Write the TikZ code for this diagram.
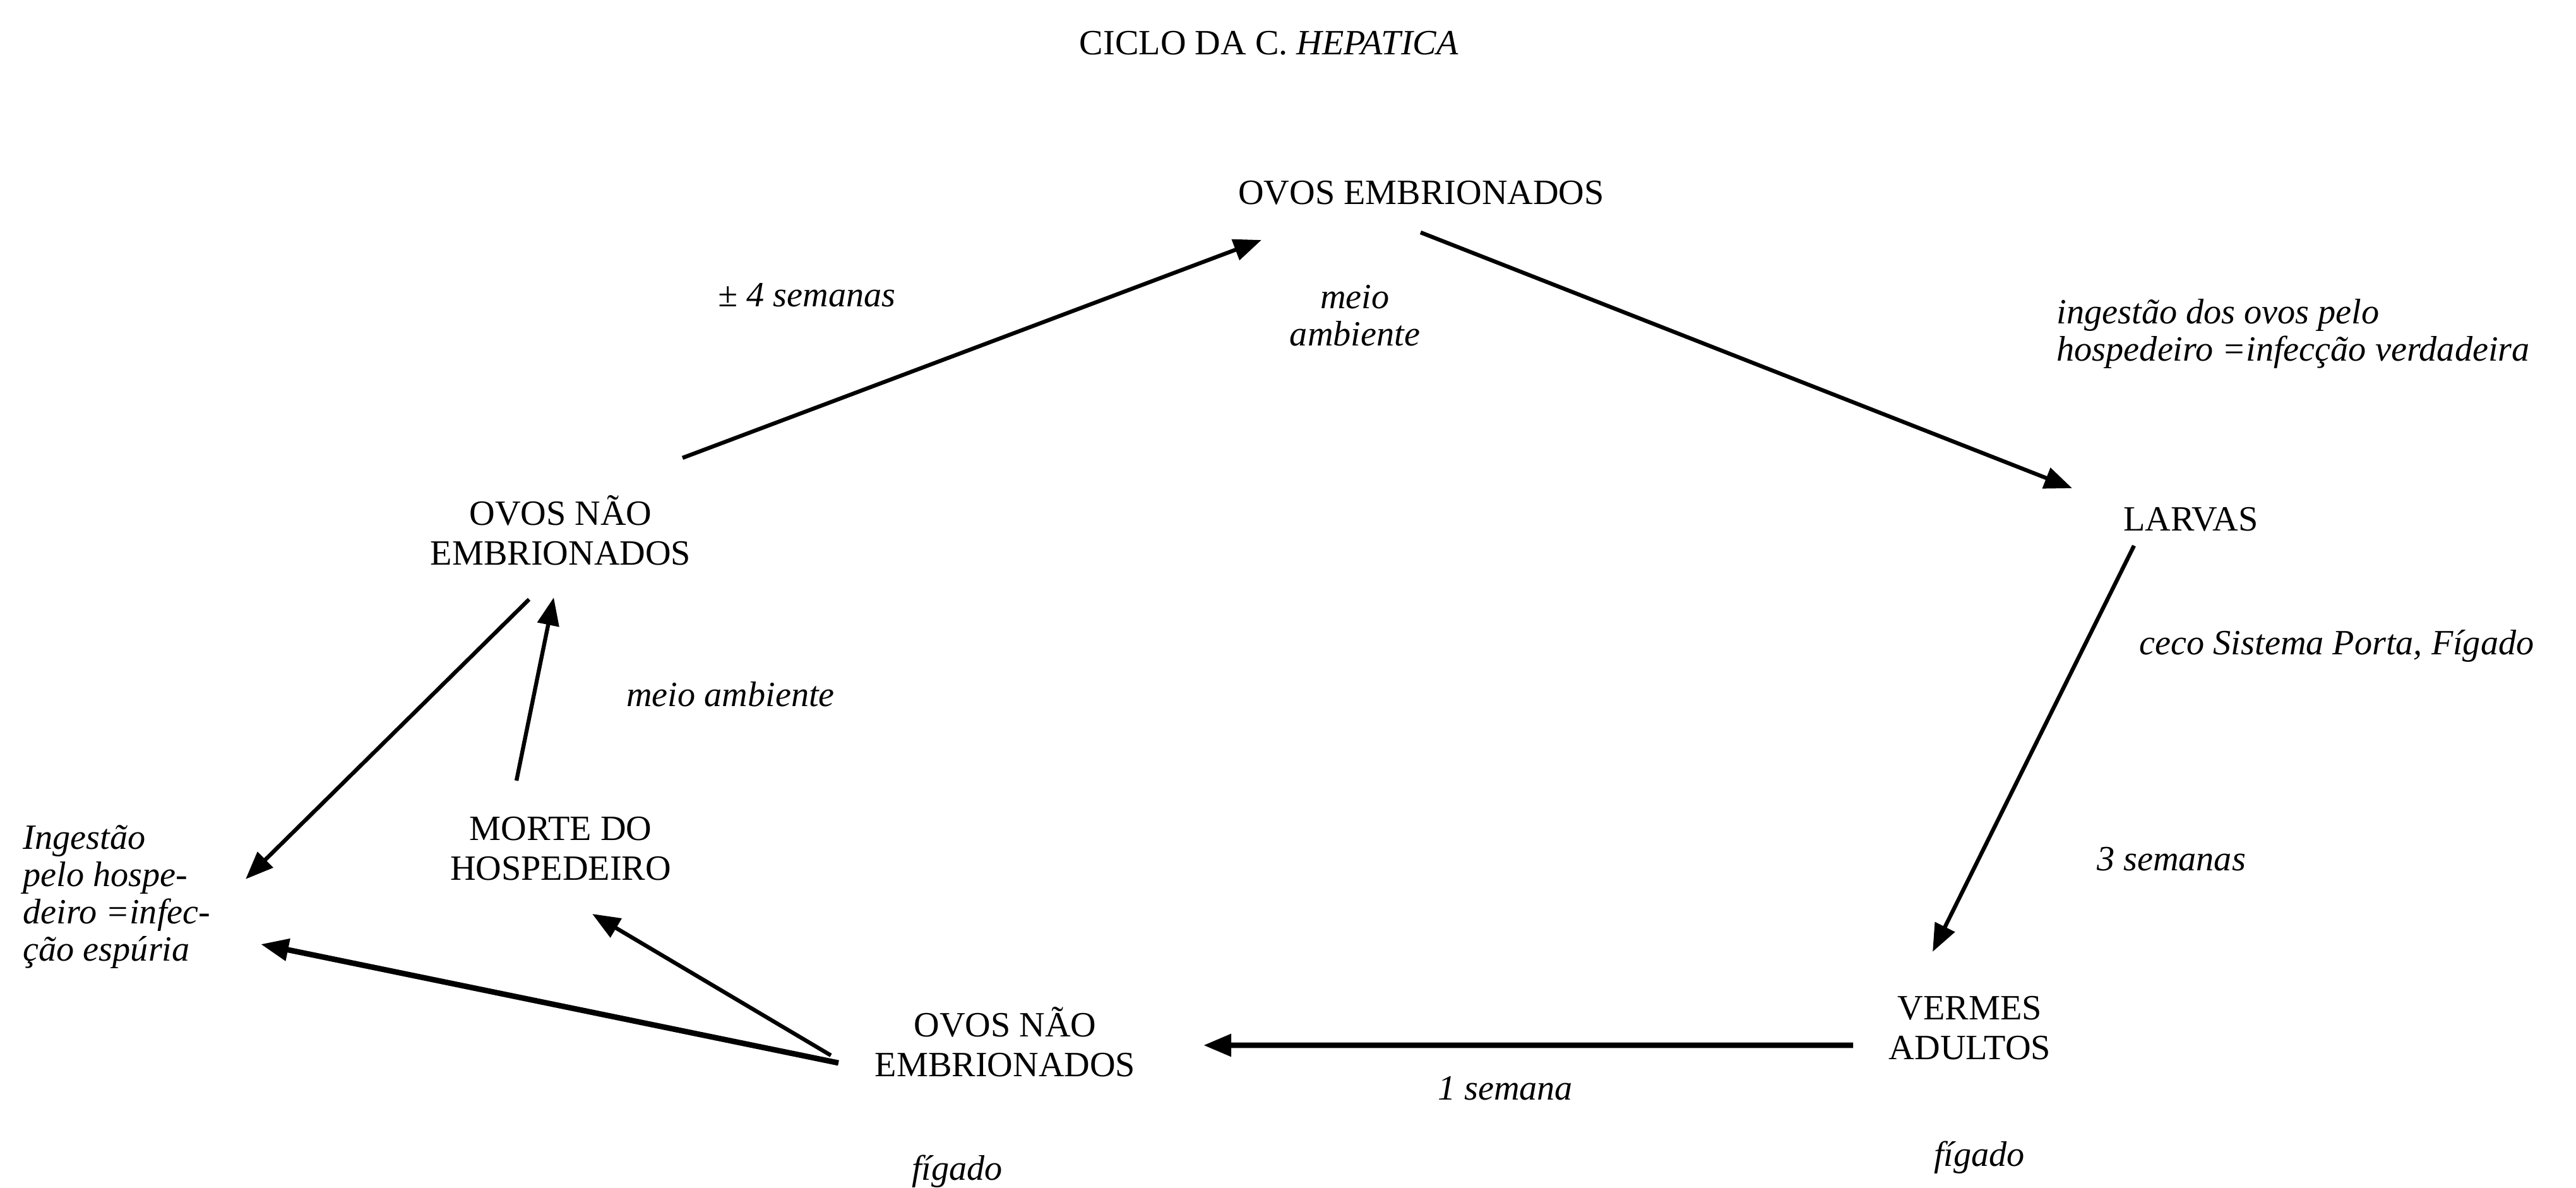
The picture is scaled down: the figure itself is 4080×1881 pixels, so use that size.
\documentclass[tikz,border=0pt]{standalone}
\usepackage{fontspec}
\setmainfont{Liberation Serif}
\usetikzlibrary{positioning,arrows.meta}

\begin{document}
\begin{tikzpicture}[x=0.1mm,y=-0.1mm,on grid,
        stage/.style={align=center,font=\fontsize{16}{18}\selectfont},
        note/.style={align=left,inner sep=0pt,font=\fontsize{16}{16.8}\selectfont\itshape},
        hop/.style={-{Triangle[length=4.4mm,width=3.4mm]},line width=1.8pt},
        heavy/.style={line width=2.5pt}]
    \useasboundingbox (0,0) rectangle (4080,1881);
    \node[stage] (ovosmeio) at (888,840) {OVOS NÃO\\EMBRIONADOS};
    \node[stage, above right=53.5mm and 136.3mm of ovosmeio] (embrionados) {OVOS EMBRIONADOS};
    \node[stage, below=50.4mm of ovosmeio] (morte) {MORTE DO\\HOSPEDEIRO};
    \node[stage, below right=30.6mm and 70.4mm of morte] (ovosfigado) {OVOS NÃO\\EMBRIONADOS};
    \node[stage, below right=51.7mm and 121.9mm of embrionados] (larvas) {LARVAS};
    \node[stage, below left=80.6mm and 35mm of larvas] (vermes) {VERMES\\ADULTOS};
    \node[stage, above left=23.7mm and 24.1mm of embrionados] (titulo) {CICLO DA C. \textit{HEPATICA}};
    \node[note, above right=37.3mm and 39mm of ovosmeio] (quatro) {± 4 semanas};
    \node[note, align=center, below left=19.5mm and 10.5mm of embrionados] (meioa) {meio\\ambiente};
    \node[note, above left=29.4mm and 21.3mm of larvas, anchor=west] (verdadeira) {ingestão dos ovos pelo\\hospedeiro =infecção verdadeira};
    \node[note, below left=20.1mm and 8.2mm of larvas, anchor=west] (ceco) {ceco Sistema Porta, Fígado};
    \node[note, below right=25.9mm and 26.9mm of ovosmeio] (meiob) {meio ambiente};
    \node[note, below left=7.6mm and 85.2mm of morte, anchor=west] (espuria) {Ingestão\\pelo hospe-\\deiro =infec-\\ção espúria};
    \node[note, above right=26.8mm and 31.9mm of vermes] (tres) {3 semanas};
    \node[note, below right=7.3mm and 79.2mm of ovosfigado] (uma) {1 semana};
    \node[note, below left=20.5mm and 7.6mm of ovosfigado] (figadoa) {fígado};
    \node[note, below right=20.5mm and 1.5mm of vermes] (figadob) {fígado};
    \path[hop]
        ([shift={(193,-115)}]ovosmeio.center) edge ([shift={(-253,75)}]embrionados.center)
        ([shift={(-1,63)}]embrionados.center) edge ([shift={(-188,-49)}]larvas.center)
        ([shift={(-90,42)}]larvas.center) edge ([shift={(-59,-121)}]vermes.center)
        ([shift={(-185,27)}]vermes.center) edge[heavy] ([shift={(314,5)}]ovosfigado.center)
        ([shift={(-276,21)}]ovosfigado.center) edge ([shift={(50,103)}]morte.center)
        ([shift={(-264,33)}]ovosfigado.center) edge[heavy] ([shift={(377,75)}]espuria.west)
        ([shift={(-70,-108)}]morte.center) edge ([shift={(-11,106)}]ovosmeio.center)
        ([shift={(-50,109)}]ovosmeio.center) edge ([shift={(353,-28)}]espuria.west);
\end{tikzpicture}
\end{document}
